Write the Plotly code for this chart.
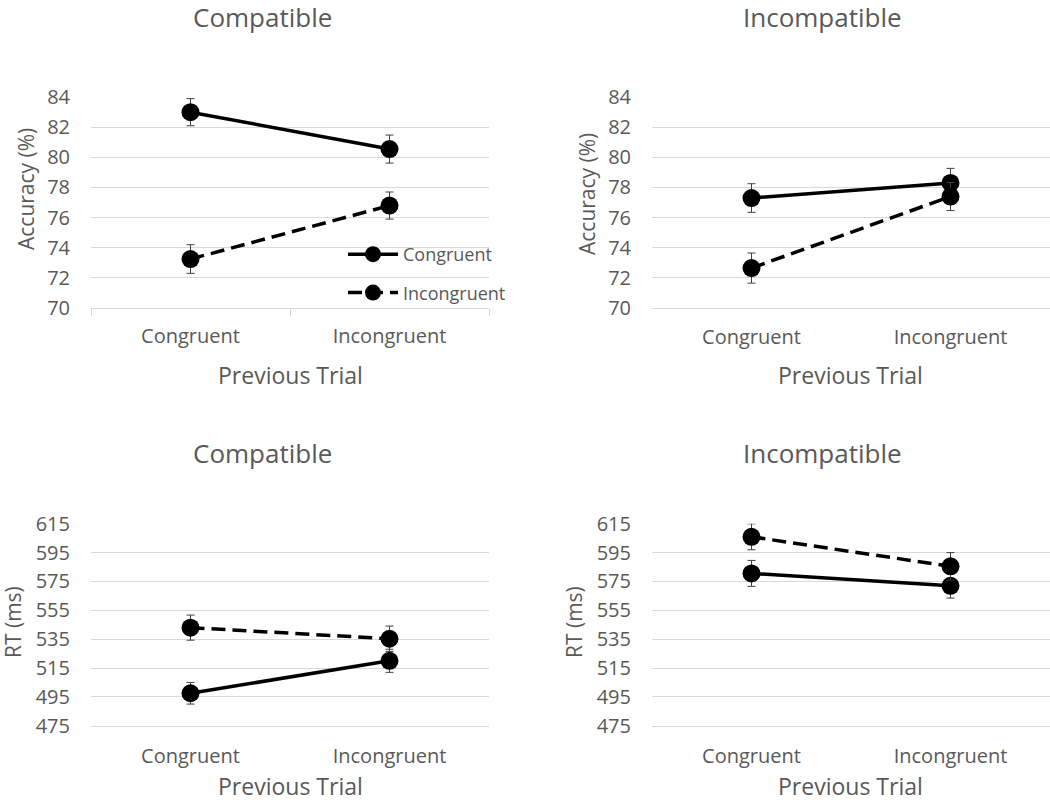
import plotly.graph_objects as go

W, H = 1050, 802

categories = ["Congruent", "Incongruent"]
series_names = ["Congruent", "Incongruent"]

# Accuracy (%) - Compatible
acc_comp_cong = [83.0, 80.55]
acc_comp_cong_err = [0.9, 0.93]
acc_comp_incong = [73.25, 76.8]
acc_comp_incong_err = [0.95, 0.9]

# Accuracy (%) - Incompatible
acc_incomp_cong = [77.3, 78.3]
acc_incomp_cong_err = [0.95, 0.97]
acc_incomp_incong = [72.65, 77.4]
acc_incomp_incong_err = [1.0, 0.93]

# RT (ms) - Compatible
rt_comp_cong = [497.5, 520.0]
rt_comp_cong_err = [7.5, 8.0]
rt_comp_incong = [543.0, 535.3]
rt_comp_incong_err = [8.7, 8.8]

# RT (ms) - Incompatible
rt_incomp_cong = [580.6, 572.0]
rt_incomp_cong_err = [9.0, 8.5]
rt_incomp_incong = [606.0, 585.5]
rt_incomp_incong_err = [9.0, 9.5]

acc_ticks = [70, 72, 74, 76, 78, 80, 82, 84]
rt_ticks = [475, 495, 515, 535, 555, 575, 595, 615]

panel_titles = ["Compatible", "Incompatible", "Compatible", "Incompatible"]
y_titles = ["Accuracy (%)", "Accuracy (%)", "RT (ms)", "RT (ms)"]
x_title = "Previous Trial"

FONT = "Open Sans"
TXT = "#595959"
GRID = "#d9d9d9"

fig = go.Figure()

panels = [
    ("x", "y", acc_comp_cong, acc_comp_cong_err, acc_comp_incong, acc_comp_incong_err, True),
    ("x2", "y2", acc_incomp_cong, acc_incomp_cong_err, acc_incomp_incong, acc_incomp_incong_err, False),
    ("x3", "y3", rt_comp_cong, rt_comp_cong_err, rt_comp_incong, rt_comp_incong_err, False),
    ("x4", "y4", rt_incomp_cong, rt_incomp_cong_err, rt_incomp_incong, rt_incomp_incong_err, False),
]

for xa, ya, c, ce, ic, ice, show in panels:
    for name, vals, errs, dash in [
        (series_names[0], c, ce, "solid"),
        (series_names[1], ic, ice, "14px,7px"),
    ]:
        fig.add_trace(go.Scatter(
            x=categories, y=vals, name=name, xaxis=xa, yaxis=ya,
            mode="lines+markers",
            line=dict(color="black", width=3.5, dash=dash),
            marker=dict(color="black", size=18),
            error_y=dict(type="data", array=errs, visible=True,
                         color="#404040", thickness=1, width=4),
            showlegend=show, legendgroup=name, cliponaxis=False,
        ))

xdoms = [[91 / W, 489 / W], [652 / W, 1.0]]
ydoms = [[1 - 308 / H, 1 - 97 / H], [1 - 725.7 / H, 1 - 523.7 / H]]

layout = dict(
    template="none",
    width=W, height=H, autosize=False,
    margin=dict(l=0, r=0, t=0, b=0, pad=0, autoexpand=False),
    paper_bgcolor="white", plot_bgcolor="white",
    font=dict(family=FONT, color=TXT, size=20),
    legend=dict(x=343 / W, y=1 - 236 / H, xanchor="left", yanchor="top",
                bgcolor="rgba(0,0,0,0)", font=dict(size=18, color=TXT),
                traceorder="grouped", tracegroupgap=12, itemwidth=50),
)

for i in range(4):
    r, cidx = divmod(i, 2)
    suffix = "" if i == 0 else str(i + 1)
    xk = "xaxis" + suffix
    yk = "yaxis" + suffix
    ticks = acc_ticks if r == 0 else rt_ticks
    layout[xk] = dict(
        domain=xdoms[cidx], anchor="y" + suffix, type="category", automargin=False,
        range=[-0.5, 1.5], showgrid=False, showline=True, linecolor=GRID, linewidth=1,
        ticks="outside" if i == 0 else "", tickson="boundaries", ticklen=7,
        tickcolor=GRID, tickfont=dict(size=20, color=TXT),
        ticklabelstandoff=10 if i == 0 else (11 if i == 1 else 12),
    )
    layout[yk] = dict(
        domain=ydoms[r], anchor="x" + suffix, automargin=False,
        range=[ticks[0], ticks[-1] + (ticks[-1] - ticks[0]) * 0.0005],
        tickvals=ticks, showgrid=True, gridcolor=GRID, gridwidth=1,
        zeroline=False, showline=False, ticks="",
        tickfont=dict(size=20, color=TXT), ticklabelstandoff=20,
    )

fig.update_layout(**layout)

annotations = []
title_pos = [(262, 17), (822, 17), (262, 453), (822, 453)]
ytitle_pos = [(26, 189), (587, 194), (13, 622), (574, 622)]
xtitle_pos = [(290, 375), (850, 375), (290, 786), (850, 786)]
for i in range(4):
    tx, ty = title_pos[i]
    annotations.append(dict(text=panel_titles[i], x=tx / W, y=1 - ty / H, xref="paper", yref="paper",
                            xanchor="center", yanchor="middle", showarrow=False,
                            font=dict(size=26, color=TXT, family=FONT)))
    ax, ay = ytitle_pos[i]
    annotations.append(dict(text=y_titles[i], x=ax / W, y=1 - ay / H, xref="paper", yref="paper",
                            xanchor="center", yanchor="middle", showarrow=False, textangle=-90,
                            font=dict(size=21, color=TXT, family=FONT)))
    bx, by = xtitle_pos[i]
    annotations.append(dict(text=x_title, x=bx / W, y=1 - by / H, xref="paper", yref="paper",
                            xanchor="center", yanchor="middle", showarrow=False,
                            font=dict(size=23, color=TXT, family=FONT)))
fig.update_layout(annotations=annotations)

fig.write_html("out.html", config={"displayModeBar": False},
               post_script="document.body.style.margin='0px';document.body.style.overflow='hidden';")
